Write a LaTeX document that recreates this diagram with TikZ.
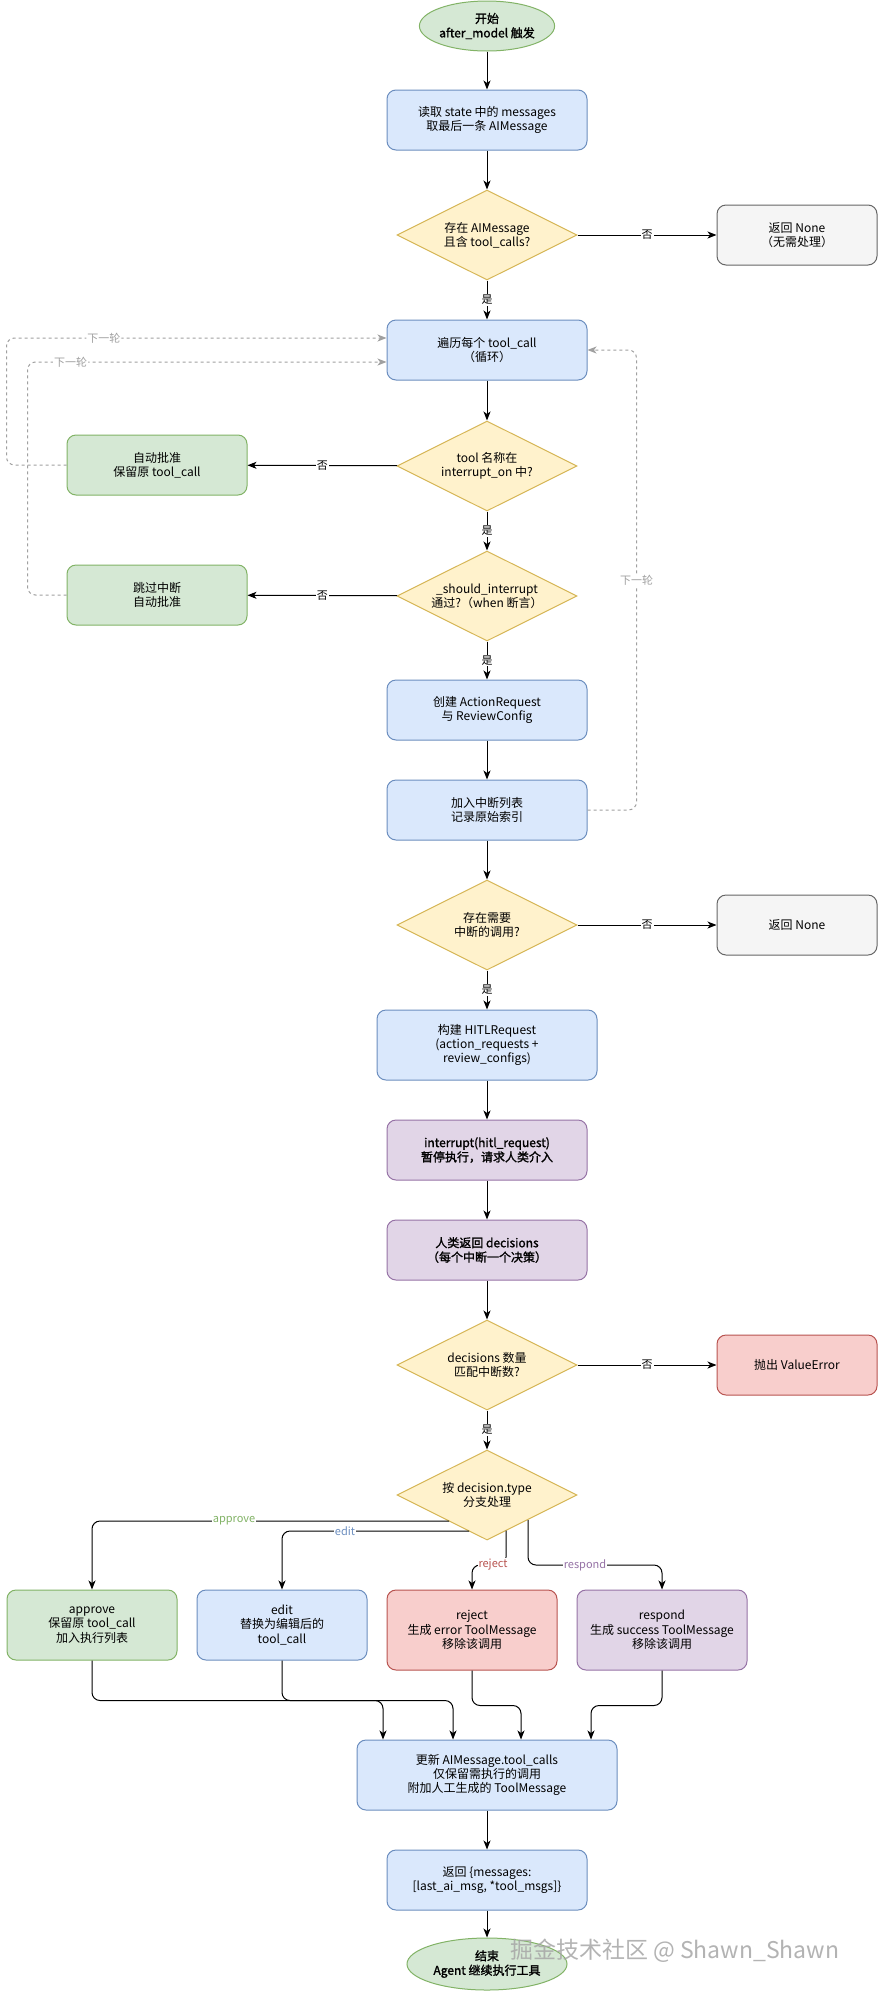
\documentclass[tikz,border=0pt]{standalone}
\usepackage{fontspec}
\setmainfont{Noto Sans CJK SC}[AutoFakeBold=1.5]
\usetikzlibrary{shapes.geometric,arrows.meta,calc}
\definecolor{greenf}{HTML}{D5E8D4}\definecolor{greend}{HTML}{82B366}
\definecolor{bluef}{HTML}{DAE8FC}\definecolor{blued}{HTML}{6C8EBF}
\definecolor{yellowf}{HTML}{FFF2CC}\definecolor{yellowd}{HTML}{D6B656}
\definecolor{greyf}{HTML}{F5F5F5}\definecolor{greyd}{HTML}{666666}
\definecolor{redf}{HTML}{F8CECC}\definecolor{redd}{HTML}{B85450}
\definecolor{purplef}{HTML}{E1D5E7}\definecolor{purpled}{HTML}{9673A6}
\definecolor{loopc}{HTML}{A0A0A0}
\newcommand{\fsmain}{\fontsize{12pt}{14.4pt}\selectfont}
\newcommand{\fslbl}{\fontsize{11pt}{13pt}\selectfont}
\tikzset{
  base/.style={draw, line width=1pt, align=center, font=\fsmain, inner sep=0pt},
  box/.style={base, rectangle, rounded corners=9pt, minimum width=200pt, minimum height=60pt},
  bluebox/.style={box, fill=bluef, draw=blued},
  greenbox/.style={box, fill=greenf, draw=greend},
  greybox/.style={box, fill=greyf, draw=greyd, minimum width=160pt},
  redbox/.style={box, fill=redf, draw=redd},
  purplebox/.style={box, fill=purplef, draw=purpled},
  decision/.style={base, diamond, aspect=2, fill=yellowf, draw=yellowd, minimum width=180pt, minimum height=90pt},
  terminal/.style={base, ellipse, fill=greenf, draw=greend, font=\fsmain\bfseries},
  arr/.style={line width=1pt, -{Stealth[length=9pt,width=7pt,inset=2.5pt]}},
  looparr/.style={line width=1pt, draw=loopc, dashed, dash pattern=on 3pt off 3pt, rounded corners=8pt, -{Stealth[length=9pt,width=7pt,inset=2.5pt,fill=loopc]}},
  lbl/.style={fill=white, inner sep=1pt, font=\fslbl},
  looplbl/.style={fill=white, inner sep=1pt, font=\fslbl, text=loopc},
}
\begin{document}
\begin{tikzpicture}[x=1pt,y=-1pt]
\path[use as bounding box, fill=white] (0,0) rectangle (879,1992);

\node[terminal, minimum width=120pt, minimum height=50pt] (start) at (487,26) {开始\\after\_model 触发};
\node[bluebox] (read) at (487,120) {读取 state 中的 messages\\取最后一条 AIMessage};
\node[decision] (d1) at (487,235) {存在 AIMessage\\且含 tool\_calls?};
\node[greybox] (none1) at (797,235) {返回 None\\（无需处理）};
\node[bluebox] (loop) at (487,350) {遍历每个 tool\_call\\（循环）};
\node[decision] (d2) at (487,466) {tool 名称在\\interrupt\_on 中?};
\node[greenbox, minimum width=180pt] (auto1) at (157,465) {自动批准\\保留原 tool\_call};
\node[decision] (d3) at (487,596) {\_should\_interrupt\\通过?（when 断言）};
\node[greenbox, minimum width=180pt] (skip) at (157,595) {跳过中断\\自动批准};
\node[bluebox] (create) at (487,710) {创建 ActionRequest\\与 ReviewConfig};
\node[bluebox] (addlist) at (487,810) {加入中断列表\\记录原始索引};
\node[decision] (d4) at (487,925) {存在需要\\中断的调用?};
\node[greybox] (none2) at (797,925) {返回 None};
\node[bluebox, minimum width=220pt, minimum height=70pt] (hitl) at (487,1045) {构建 HITLRequest\\(action\_requests +\\review\_configs)};
\node[purplebox, font=\fsmain\bfseries] (intr) at (487,1150) {interrupt(hitl\_request)\\暂停执行，请求人类介入};
\node[purplebox, font=\fsmain\bfseries] (human) at (487,1250) {人类返回 decisions\\（每个中断一个决策）};
\node[decision] (d5) at (487,1365) {decisions 数量\\匹配中断数?};
\node[redbox, minimum width=160pt] (valerr) at (797,1365) {抛出 ValueError};
\node[decision] (d6) at (487,1495) {按 decision.type\\分支处理};
\node[greenbox, minimum width=170pt, minimum height=70pt] (approve) at (92,1625) {approve\\保留原 tool\_call\\加入执行列表};
\node[bluebox, minimum width=170pt, minimum height=70pt] (edit) at (282,1625) {edit\\替换为编辑后的\\tool\_call};
\node[redbox, minimum width=170pt, minimum height=80pt] (reject) at (472,1630) {reject\\生成 error ToolMessage\\移除该调用};
\node[purplebox, minimum width=170pt, minimum height=80pt] (respond) at (662,1630) {respond\\生成 success ToolMessage\\移除该调用};
\node[bluebox, minimum width=260pt, minimum height=70pt] (update) at (487,1775) {更新 AIMessage.tool\_calls\\仅保留需执行的调用\\附加人工生成的 ToolMessage};
\node[bluebox] (ret) at (487,1880) {返回 \{messages:\\{}[last\_ai\_msg, *tool\_msgs]\}};
\node[terminal, minimum width=160pt, minimum height=52pt] (end) at (487,1964) {结束\\Agent 继续执行工具};

% main flow
\draw[arr] (start) -- (read);
\draw[arr] (read) -- (d1);
\draw[arr] (d1) -- (none1) node[midway, lbl] {否};
\draw[arr] (d1) -- (loop) node[midway, lbl] {是};
\draw[arr] (loop) -- (d2);
\draw[arr] (d2) -- (auto1) node[midway, lbl] {否};
\draw[arr] (d2) -- (d3) node[midway, lbl] {是};
\draw[arr] (d3) -- (skip) node[midway, lbl] {否};
\draw[arr] (d3) -- (create) node[midway, lbl] {是};
\draw[arr] (create) -- (addlist);
\draw[arr] (addlist) -- (d4);
\draw[arr] (d4) -- (none2) node[midway, lbl] {否};
\draw[arr] (d4) -- (hitl) node[midway, lbl] {是};
\draw[arr] (hitl) -- (intr);
\draw[arr] (intr) -- (human);
\draw[arr] (human) -- (d5);
\draw[arr] (d5) -- (valerr) node[midway, lbl] {否};
\draw[arr] (d5) -- (d6) node[midway, lbl] {是};

% loops
\draw[looparr] (auto1.west) -- ++(-60,0) |- ($(loop.west)+(0,-12)$) node[pos=0.628, looplbl] {下一轮};
\draw[looparr] (skip.west) -- ++(-39,0) |- ($(loop.west)+(0,12)$) node[pos=0.56, looplbl] {下一轮};
\draw[looparr] (addlist.east) -- ++(49,0) |- (loop.east) node[pos=0.25, looplbl] {下一轮};

% branch points
\coordinate (apS) at ($(d6.center)+(-38,26)$);
\coordinate (edS) at ($(d6.center)+(-18,36)$);
\coordinate (rjS) at ($(d6.center)+(19,35.5)$);
\coordinate (rjT) at ($(d6.center)+(19,70)$);
\coordinate (rsS) at ($(d6.center)+(41,25)$);
\coordinate (rsT) at ($(d6.center)+(41,70)$);

% branches
\draw[arr, rounded corners=8pt] (apS) -| (approve.north);
\draw[arr, rounded corners=8pt] (edS) -| (edit.north);
\draw[arr, rounded corners=8pt] (rjS) -- (rjT) -| (reject.north);
\draw[arr, rounded corners=8pt] (rsS) -- (rsT) -| (respond.north);
\node[lbl, text=greend] (lapprove) at ($(d6.center)+(-253,26)$) {approve};
\node[lbl, text=blued] (ledit) at ($(d6.center)+(-142,36)$) {edit};
\node[lbl, text=redd] (lreject) at ($(d6.center)+(6,70)$) {reject};
\node[lbl, text=purpled] (lrespond) at ($(d6.center)+(98,70)$) {respond};

% merges
\draw[arr, rounded corners=8pt] (approve.south) -- ++(0,40) -| ($(update.north)+(-104,0)$);
\draw[arr, rounded corners=8pt] (edit.south) -- ++(0,40) -| ($(update.north)+(-34,0)$);
\draw[arr, rounded corners=8pt] (reject.south) -- ++(0,35) -| ($(update.north)+(34,0)$);
\draw[arr, rounded corners=8pt] (respond.south) -- ++(0,35) -| ($(update.north)+(104,0)$);
\draw[arr] (update) -- (ret);
\draw[arr] (ret) -- (end);

% watermark
\node[text=gray!70, opacity=0.85, font=\fontsize{23pt}{26pt}\selectfont, anchor=west, inner sep=0pt] (wm) at (510,1951) {掘金技术社区 @ Shawn\_Shawn};
\end{tikzpicture}
\end{document}
